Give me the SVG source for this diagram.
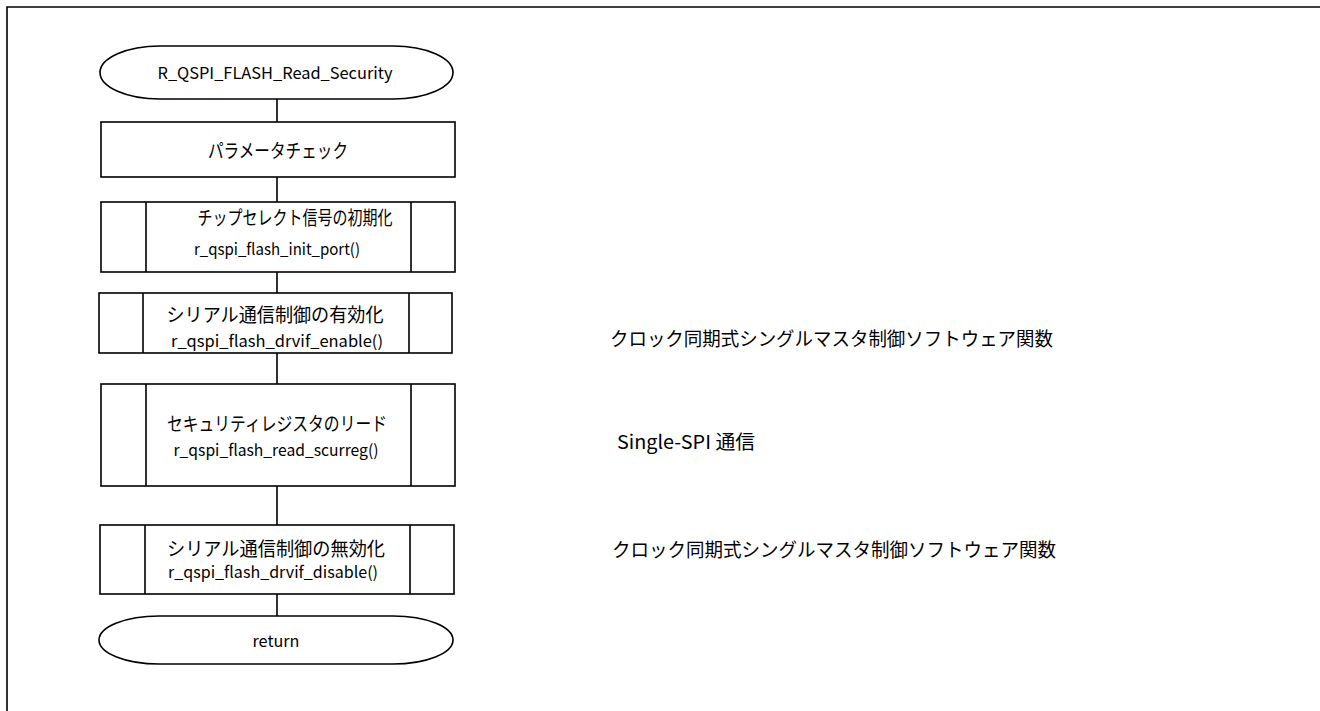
<svg xmlns="http://www.w3.org/2000/svg" width="1320" height="711" viewBox="0 0 1320 711">
<style>
.s{fill:#fff;stroke:#000;stroke-width:1.6}
.l{fill:none;stroke:#000;stroke-width:1.6}
.t{font-family:"Noto Sans CJK JP","Liberation Sans",sans-serif;fill:#000;text-anchor:middle;dominant-baseline:central}
.j{font-size:19px}
.f{font-size:16px}
.r{font-family:"Noto Sans CJK JP","Liberation Sans",sans-serif;fill:#000;font-size:19px;dominant-baseline:central}
</style>
<rect width="1320" height="711" fill="#fff"/>
<path class="l" d="M1320 7 H7 V711"/>
<g id="connectors">
<path class="l" d="M277 99 V122 M277 177 V202 M277 272 V293 M277 353 V384 M277 486 V525 M277 594 V616"/>
</g>
<g id="start">
<rect class="s" x="100" y="46" width="353" height="53" rx="60" ry="26.5"/>
<text class="t f" x="275" y="72" textLength="235" lengthAdjust="spacingAndGlyphs">R_QSPI_FLASH_Read_Security</text>
</g>
<g id="param">
<rect class="s" x="101" y="122" width="354" height="55"/>
<text class="t j" x="278" y="149" textLength="140" lengthAdjust="spacingAndGlyphs">パラメータチェック</text>
</g>
<g id="initport">
<rect class="s" x="101" y="202" width="354" height="70"/>
<path class="l" d="M146 202 V272 M411 202 V272"/>
<text class="t j" x="295" y="216" textLength="195" lengthAdjust="spacingAndGlyphs">チップセレクト信号の初期化</text>
<text class="t f" x="277" y="248" textLength="166" lengthAdjust="spacingAndGlyphs">r_qspi_flash_init_port()</text>
</g>
<g id="enable">
<rect class="s" x="99" y="293" width="353" height="60"/>
<path class="l" d="M143 293 V353 M409 293 V353"/>
<text class="t j" x="275" y="313" textLength="217" lengthAdjust="spacingAndGlyphs">シリアル通信制御の有効化</text>
<text class="t f" x="277" y="340" textLength="212" lengthAdjust="spacingAndGlyphs">r_qspi_flash_drvif_enable()</text>
</g>
<g id="readscur">
<rect class="s" x="101" y="384" width="354" height="102"/>
<path class="l" d="M146 384 V486 M411 384 V486"/>
<text class="t j" x="277" y="422" textLength="220" lengthAdjust="spacingAndGlyphs">セキュリティレジスタのリード</text>
<text class="t f" x="276" y="449" textLength="205" lengthAdjust="spacingAndGlyphs">r_qspi_flash_read_scurreg()</text>
</g>
<g id="disable">
<rect class="s" x="100" y="525" width="354" height="69"/>
<path class="l" d="M145 525 V594 M410 525 V594"/>
<text class="t j" x="276" y="547" textLength="218" lengthAdjust="spacingAndGlyphs">シリアル通信制御の無効化</text>
<text class="t f" x="273" y="571" textLength="210" lengthAdjust="spacingAndGlyphs">r_qspi_flash_drvif_disable()</text>
</g>
<g id="return">
<rect class="s" x="99" y="616" width="354" height="48" rx="60" ry="24"/>
<text class="t f" x="276" y="640" textLength="47" lengthAdjust="spacingAndGlyphs">return</text>
</g>
<g id="notes">
<text class="r" x="610" y="337" textLength="443" lengthAdjust="spacingAndGlyphs">クロック同期式シングルマスタ制御ソフトウェア関数</text>
<text class="r" x="617" y="440" textLength="138" lengthAdjust="spacingAndGlyphs">Single-SPI 通信</text>
<text class="r" x="612" y="548" textLength="444" lengthAdjust="spacingAndGlyphs">クロック同期式シングルマスタ制御ソフトウェア関数</text>
</g>
</svg>
